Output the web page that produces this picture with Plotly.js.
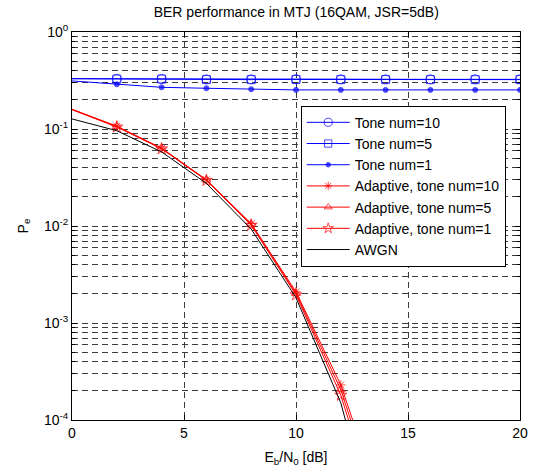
<!DOCTYPE html>
<html>
<head>
<meta charset="utf-8">
<script src="https://cdn.plot.ly/plotly-3.0.1.min.js"></script>
<style>
  html, body { margin: 0; padding: 0; background: #fff; }
  #chart { width: 537px; height: 470px; }
</style>
</head>
<body>
<div id="chart"></div>
<script>
// Eb/N0 grid (dB)
const ebnoTone = [0, 2, 4, 6, 8, 10, 12, 14, 16, 18, 20];
const ebnoAdapt = [0, 2, 4, 6, 8, 10, 12, 14];

// Non-adaptive receiver under multi-tone jamming
const berTone10 = [0.330, 0.329, 0.328, 0.325, 0.325, 0.326, 0.325, 0.325, 0.325, 0.325, 0.325];
const berTone5  = [0.330, 0.327, 0.327, 0.323, 0.323, 0.324, 0.323, 0.323, 0.323, 0.323, 0.323];
const berTone1  = [0.313, 0.289, 0.269, 0.263, 0.257, 0.253, 0.253, 0.253, 0.253, 0.253, 0.253];

// Adaptive receiver
const berAdapt10 = [0.160, 0.107, 0.0635, 0.0300, 0.0106, 0.00210, 2.30e-4, 1.0e-5];
const berAdapt5  = [0.159, 0.106, 0.0630, 0.0298, 0.0104, 0.00202, 2.05e-4, 8.0e-6];
const berAdapt1  = [0.158, 0.105, 0.0625, 0.0295, 0.0102, 0.00195, 1.80e-4, 6.0e-6];

// Reference curve without jamming
const berAwgn = [0.127, 0.096, 0.058, 0.0275, 0.0093, 0.00182, 1.5e-4, 3.0e-6];

// Axis ticks
const xTicks = [0, 5, 10, 15, 20];
const yTickVals = [1e-4, 1e-3, 1e-2, 1e-1, 1];
const yTickText = ['10<sup>-4</sup>', '10<sup>-3</sup>', '10<sup>-2</sup>', '10<sup>-1</sup>', '10<sup>0</sup>'];

const names = ['Tone num=10', 'Tone num=5', 'Tone num=1',
               'Adaptive, tone num=10', 'Adaptive, tone num=5', 'Adaptive, tone num=1', 'AWGN'];

// markers are drawn from the second point onward
const sizesFrom = (xs, s) => xs.map(v => (v === 0 ? 0 : s));

const BLUE = '#0000ff', RED = '#ff0000';

function curve(x, y, name, color, symbol, size) {
  const t = {
    x: x, y: y, name: name, type: 'scatter',
    mode: symbol ? 'lines+markers' : 'lines',
    line: { color: color, width: 1 },
    cliponaxis: true
  };
  if (symbol) {
    t.marker = { symbol: symbol, size: sizesFrom(x, size), color: color,
                 line: { color: color, width: 1 } };
  }
  return t;
}

const data = [
  curve(ebnoTone, berTone10, names[0], BLUE, 'circle-open', 9),
  curve(ebnoTone, berTone5, names[1], BLUE, 'square-open', 8),
  curve(ebnoTone, berTone1, names[2], BLUE, 'circle', 5),
  curve(ebnoAdapt, berAdapt10, names[3], RED, 'asterisk-open', 8),
  curve(ebnoAdapt, berAdapt5, names[4], RED, 'triangle-up-open', 8),
  curve(ebnoAdapt, berAdapt1, names[5], RED, 'star-open', 9),
  curve(ebnoAdapt, berAwgn, names[6], '#000000', null, 0)
];

const FONT = 'Liberation Sans, Arial, Helvetica, sans-serif';
const GRID = '#3c3c3c';
const DASH = '6px,4px';

const layout = {
  width: 537, height: 470,
  margin: { l: 72, r: 17, t: 32, b: 50 },
  paper_bgcolor: '#ffffff', plot_bgcolor: '#ffffff',
  font: { family: FONT, size: 14, color: '#000' },
  showlegend: true,
  title: {
    text: 'BER performance in MTJ (16QAM, JSR=5dB)',
    font: { family: FONT, size: 14, color: '#000' },
    x: 0.5517, xanchor: 'center', y: 0.975, yanchor: 'middle'
  },
  xaxis: {
    range: [0, 20], tickmode: 'array', tickvals: xTicks,
    ticks: 'inside', ticklen: 5, tickcolor: '#000',
    showline: true, linecolor: '#000', linewidth: 1, mirror: 'allticks',
    showgrid: true, gridcolor: GRID, gridwidth: 1, griddash: DASH,
    zeroline: false,
    tickfont: { family: FONT, size: 14 },
    title: { text: 'E<sub>b</sub>/N<sub>0</sub> [dB]', font: { family: FONT, size: 14 }, standoff: 12 }
  },
  yaxis: {
    type: 'log', range: [-4, 0],
    tickmode: 'array', tickvals: yTickVals, ticktext: yTickText,
    ticks: 'inside', ticklen: 5, tickcolor: '#000',
    showline: true, linecolor: '#000', linewidth: 1, mirror: 'allticks',
    showgrid: true, gridcolor: GRID, gridwidth: 1, griddash: DASH,
    zeroline: false,
    tickfont: { family: FONT, size: 14 },
    minor: { dtick: 'D1', ticks: 'inside', ticklen: 3, tickcolor: '#000',
             showgrid: true, gridcolor: GRID, gridwidth: 1, griddash: DASH },
    title: { text: 'P<sub>e</sub>', font: { family: FONT, size: 14 }, standoff: 12 }
  },
  legend: {
    x: 0.5105, y: 0.81, xanchor: 'left', yanchor: 'top',
    bgcolor: '#ffffff', bordercolor: '#000', borderwidth: 1,
    font: { family: FONT, size: 14, color: '#000' },
    itemwidth: 43, tracegroupgap: 0
  }
};

Plotly.newPlot('chart', data, layout, { displayModeBar: false, staticPlot: true });
</script>
</body>
</html>
